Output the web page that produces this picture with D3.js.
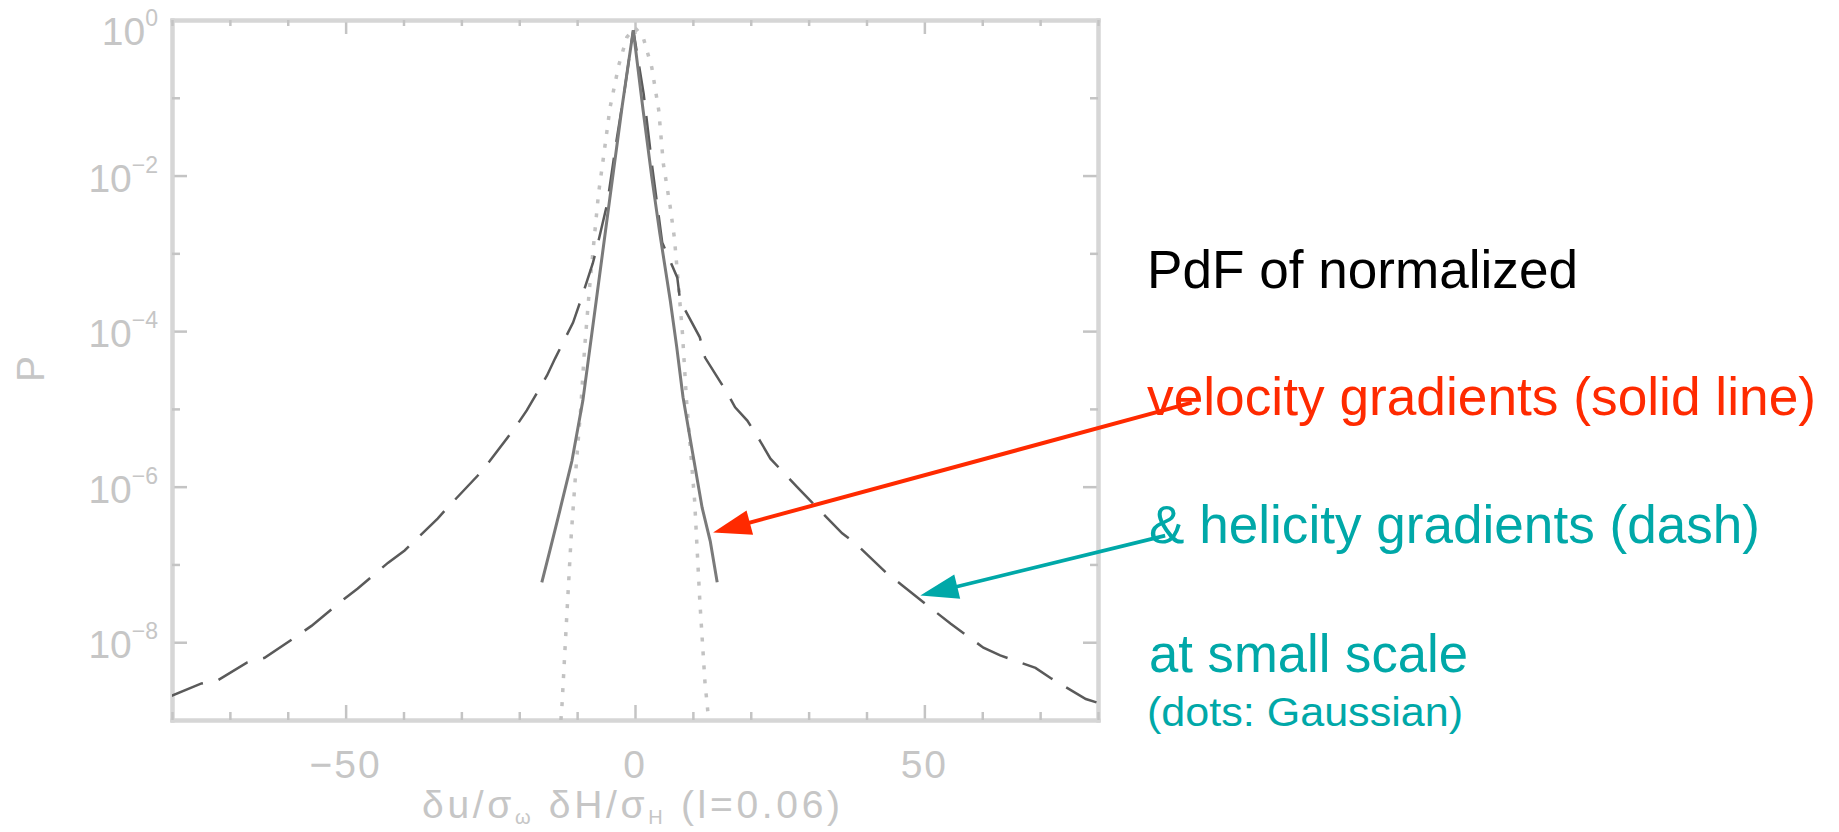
<!DOCTYPE html>
<html>
<head>
<meta charset="utf-8">
<script src="https://cdn.jsdelivr.net/npm/d3@7"></script>
<style>
body { margin: 0; background: #fff; }
svg { display: block; }
text { font-family: "Liberation Sans", Arial, Helvetica, sans-serif; }
.frame path { stroke: #d6d6d6; stroke-width: 4; stroke-linecap: square; }
.frame line { stroke: #c4c4c4; stroke-width: 2.5; }
.tick-label { fill: #c6c6c6; font-size: 39px; }
</style>
</head>
<body>
<svg id="chart"></svg>
<script>
// PdF of velocity gradients (solid line): x and log10(P)
const velocityX    = [-16.1, -14.7, -13.0, -10.9, -9.0, -6.7, -4.4, -2.2, -0.3, 1.4, 2.9, 4.3, 6.1, 7.2, 8.3, 9.9, 11.6, 13.0, 14.2];
const velocityLogP = [-7.23, -6.82, -6.31, -5.67, -4.89, -3.61, -2.32, -1.10, -0.13, -1.16, -2.02, -2.75, -3.61, -4.20, -4.85, -5.54, -6.27, -6.70, -7.23];

// PdF of helicity gradients (dash)
const helicityX    = [-80.1, -74.9, -72.1, -67.0, -64.0, -58.8, -55.9, -50.2, -47.9, -42.7, -39.8, -34.1, -32.4, -27.2, -25.1, -20.8, -18.7, -15.2, -13.8, -10.7, -9.5, -7.3, -6.4, -4.8, -3.3, -1.8, -0.3,
                      1.5, 3.0, 4.7, 7.3, 7.8, 11.2, 12.1, 15.9, 17.3, 19.4, 21.6, 23.4, 28.2, 30.8, 35.8, 38.1, 43.6, 46.2, 51.6, 54.5, 60.2, 63.1, 69.2, 71.8, 77.9, 80.0];
const helicityLogP = [-8.69, -8.53, -8.49, -8.26, -8.20, -7.94, -7.79, -7.44, -7.31, -6.98, -6.82, -6.41, -6.27, -5.86, -5.67, -5.25, -5.02, -4.57, -4.35, -3.89, -3.63, -3.13, -2.87, -2.36, -1.60, -0.90, -0.13,
                      -0.95, -1.90, -2.86, -3.31, -3.61, -4.08, -4.34, -4.79, -4.98, -5.15, -5.41, -5.64, -6.02, -6.22, -6.60, -6.73, -7.12, -7.27, -7.59, -7.76, -8.07, -8.17, -8.33, -8.46, -8.73, -8.78];

// Gaussian reference (dots)
const gaussX    = [-12.8, -12.6, -11.8, -11.0, -10.1, -9.4, -8.7, -7.9, -7.2, -6.3, -5.6, -4.3, -2.8, -1.4, 0.0, 1.4, 2.9, 4.1, 4.9, 6.1, 6.8, 7.4, 8.2, 8.9, 10.3, 11.2, 12.1, 12.5, 12.7];
const gaussLogP = [-9.00, -8.79, -7.68, -6.60, -5.67, -5.02, -4.21, -3.48, -2.93, -2.23, -1.85, -1.12, -0.58, -0.22, -0.10, -0.22, -0.61, -1.16, -1.85, -2.41, -2.80, -3.31, -4.03, -4.89, -6.18, -7.47, -8.53, -8.82, -9.00];

// axis ticks
const xMajor = [-50, 0, 50];
const xMinor = [-80, -70, -60, -40, -30, -20, -10, 10, 20, 30, 40, 60, 70, 80];
const xTickLabels = ['\u221250', '0', '50'];
const yMajor = [1, 1e-2, 1e-4, 1e-6, 1e-8];
const yMinor = [1e-1, 1e-3, 1e-5, 1e-7, 1e-9];
const yTickExponents = ['0', '\u22122', '\u22124', '\u22126', '\u22128'];

// arrow ends in data units: [x, log10 P]
const velocityArrow = {tail: [96.2, -4.92], tip: [13.5, -6.59]};
const helicityArrow = {tail: [91.6, -6.63], tip: [49.3, -7.40]};

const notes = [
    {text: 'PdF of normalized', color: '#000000', size: 53, x: 1147, y: 288, len: 431},
    {text: 'velocity gradients (solid line)', color: '#ff2a00', size: 53, x: 1147, y: 415, len: 669},
    {text: '& helicity gradients (dash)', color: '#00a8a8', size: 53, x: 1149, y: 543, len: 611},
    {text: 'at small scale', color: '#00a8a8', size: 53, x: 1149, y: 672, len: 319},
    {text: '(dots: Gaussian)', color: '#00a8a8', size: 40, x: 1147, y: 726, len: 316},
];

const fullWidth = 1839;
const fullHeight = 832;
const plot = {left: 172, right: 1098, top: 20, bottom: 720};

const x = d3.scaleLinear().domain([-80, 80]).range([plot.left, plot.right]);
const y = d3.scaleLog().domain([1e-9, 1]).range([plot.bottom, plot.top]);

const svg = d3.select('#chart')
    .attr('width', fullWidth)
    .attr('height', fullHeight);

svg.append('defs').append('clipPath')
    .attr('id', 'plot-area')
    .append('rect')
    .attr('x', plot.left).attr('y', plot.top)
    .attr('width', plot.right - plot.left)
    .attr('height', plot.bottom - plot.top);

// frame: four axes, ticks pointing inward
function frameAxis(axis, transform, values, size) {
    svg.append('g').attr('class', 'frame')
        .attr('transform', transform)
        .call(axis.tickValues(values).tickSizeInner(-size).tickSizeOuter(0).tickFormat(''));
}
frameAxis(d3.axisLeft(y), `translate(${plot.left},0)`, yMajor, 15);
frameAxis(d3.axisLeft(y), `translate(${plot.left},0)`, yMinor, 8);
frameAxis(d3.axisRight(y), `translate(${plot.right},0)`, yMajor, 15);
frameAxis(d3.axisRight(y), `translate(${plot.right},0)`, yMinor, 8);
frameAxis(d3.axisTop(x), `translate(0,${plot.top})`, xMajor, 14);
frameAxis(d3.axisTop(x), `translate(0,${plot.top})`, xMinor, 6);
frameAxis(d3.axisBottom(x), `translate(0,${plot.bottom})`, xMajor, 15);
frameAxis(d3.axisBottom(x), `translate(0,${plot.bottom})`, xMinor, 8);

// tick labels
svg.append('g').selectAll('text').data(xMajor)
    .enter().append('text')
        .attr('class', 'tick-label')
        .attr('x', d => x(d))
        .attr('y', 778)
        .attr('text-anchor', 'middle')
        .attr('letter-spacing', 2)
        .text((d, i) => xTickLabels[i]);

const yLabel = svg.append('g').selectAll('text').data(yMajor)
    .enter().append('text')
        .attr('class', 'tick-label')
        .attr('x', 158)
        .attr('y', d => Math.max(y(d) + 16, 45))
        .attr('text-anchor', 'end');
yLabel.append('tspan').text('10');
yLabel.append('tspan')
    .attr('dy', -19)
    .attr('font-size', 23)
    .text((d, i) => yTickExponents[i]);

// axis titles
svg.append('text')
    .attr('class', 'tick-label')
    .attr('transform', 'translate(44,369) rotate(-90)')
    .attr('text-anchor', 'middle')
    .text('P');

const xTitle = svg.append('text')
    .attr('class', 'tick-label')
    .attr('x', 422)
    .attr('y', 818)
    .attr('textLength', 418)
    .attr('lengthAdjust', 'spacing');
xTitle.append('tspan').text('\u03b4u/\u03c3');
xTitle.append('tspan').attr('font-size', 20).attr('dy', 6).text('\u03c9');
xTitle.append('tspan').attr('dy', -6).text(' \u03b4H/\u03c3');
xTitle.append('tspan').attr('font-size', 20).attr('dy', 6).text('H');
xTitle.append('tspan').attr('dy', -6).text(' (l=0.06)');

// curves
const line = d3.line()
    .x(d => x(d[0]))
    .y(d => y(Math.pow(10, d[1])));

const curves = svg.append('g').attr('clip-path', 'url(#plot-area)');

curves.append('path')
    .datum(d3.zip(gaussX, gaussLogP))
    .attr('d', line)
    .attr('fill', 'none')
    .attr('stroke', '#c2c2c2')
    .attr('stroke-width', 3.5)
    .attr('stroke-dasharray', '4 10');

curves.append('path')
    .datum(d3.zip(helicityX, helicityLogP))
    .attr('d', line)
    .attr('fill', 'none')
    .attr('stroke', '#5a5a5a')
    .attr('stroke-width', 2.5)
    .attr('stroke-dasharray', '34 16');

curves.append('path')
    .datum(d3.zip(velocityX, velocityLogP))
    .attr('d', line)
    .attr('fill', 'none')
    .attr('stroke', '#7a7a7a')
    .attr('stroke-width', 3);

// notes on the right
svg.append('g').selectAll('text').data(notes)
    .enter().append('text')
        .attr('x', d => d.x)
        .attr('y', d => d.y)
        .attr('fill', d => d.color)
        .attr('font-size', d => d.size)
        .attr('textLength', d => d.len)
        .attr('lengthAdjust', 'spacingAndGlyphs')
        .text(d => d.text);

// arrows
function arrow(a, color, width) {
    const tx = x(a.tail[0]), ty = y(Math.pow(10, a.tail[1]));
    const hx = x(a.tip[0]), hy = y(Math.pow(10, a.tip[1]));
    const len = Math.hypot(tx - hx, ty - hy);
    const ux = (tx - hx) / len, uy = (ty - hy) / len;
    const headLen = 38, headHalf = 12.5;
    const bx = hx + ux * headLen, by = hy + uy * headLen;
    const g = svg.append('g');
    g.append('line')
        .attr('x1', tx).attr('y1', ty)
        .attr('x2', bx - ux * 2).attr('y2', by - uy * 2)
        .attr('stroke', color)
        .attr('stroke-width', width);
    g.append('path')
        .attr('d', `M${hx},${hy}L${bx - uy * headHalf},${by + ux * headHalf}L${bx + uy * headHalf},${by - ux * headHalf}Z`)
        .attr('fill', color);
}
arrow(velocityArrow, '#ff2a00', 4);
arrow(helicityArrow, '#00a8a8', 3.8);
</script>
</body>
</html>
